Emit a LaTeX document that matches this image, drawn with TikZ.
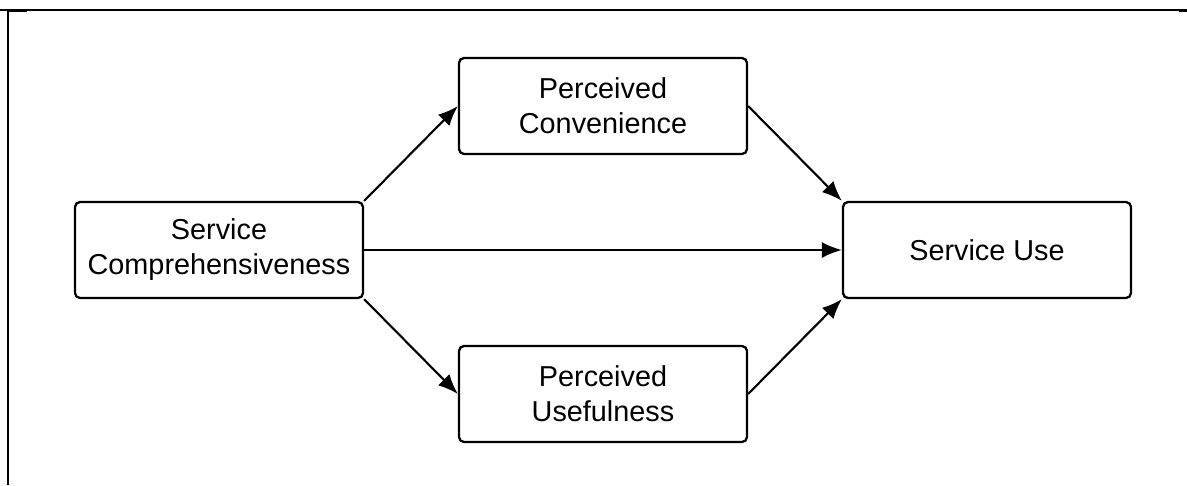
\documentclass[tikz,border=0pt]{standalone}
\usepackage{fontspec}
\setmainfont{Liberation Sans}
\usetikzlibrary{arrows.meta}

\begin{document}
\begin{tikzpicture}[x=0.02cm, y=-0.02cm, >={Latex[length=0.4cm,width=0.32cm]},
	box/.style={draw, line width=1.3pt, rounded corners=2.8pt, minimum width=5.76cm,
		minimum height=1.92cm, align=center, inner sep=0pt,
		font=\fontsize{16.4}{19.9}\selectfont},
	link/.style={->, line width=1.2pt}]

\useasboundingbox (0,0) rectangle (1187,485);

\draw[line width=0.6pt] (0,10)--(1187,10);
\draw[line width=1.2pt] (8,10.5)--(27,10.5);
\draw[line width=1.2pt] (1179,10.5)--(1187,10.5);
\draw[line width=1.2pt] (8,10)--(8,485);

\node[box] (comp) at (219,250) {Service\\Comprehensiveness};
\node[box] (conv) at (603,106) {Perceived\\Convenience};
\node[box] (usef) at (603,394) {Perceived\\Usefulness};
\node[box] (use) at (987,250) {Service Use};

\draw[link] (comp.north east)--(conv.west);
\draw[link] (comp.south east)--(usef.west);
\draw[link] (comp.east)--(use.west);
\draw[link] (conv.east)--(use.north west);
\draw[link] (usef.east)--(use.south west);

\end{tikzpicture}
\end{document}
